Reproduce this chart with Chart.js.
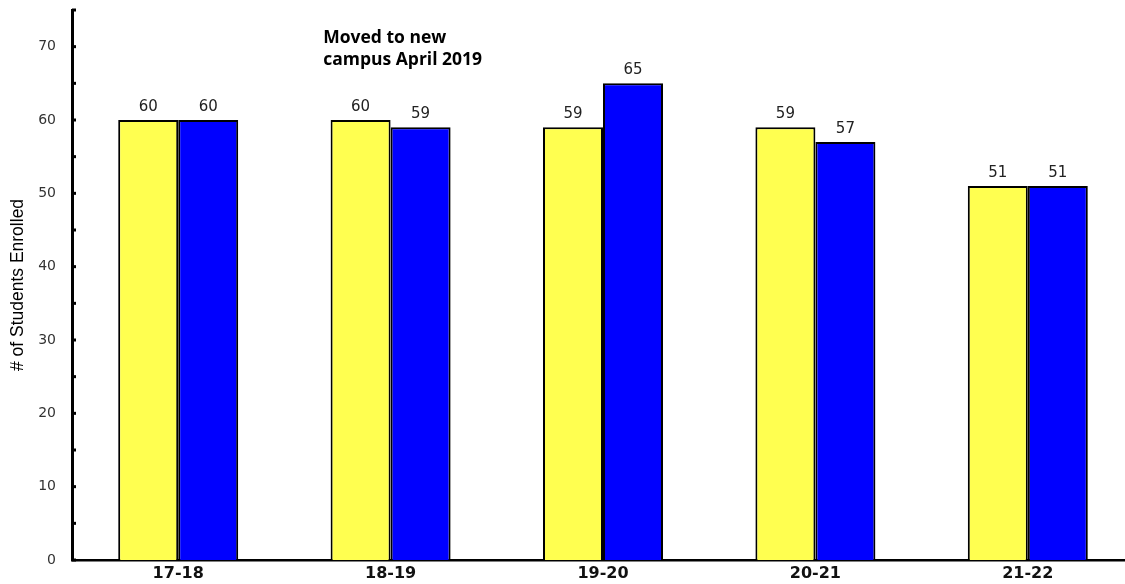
<!DOCTYPE html>
<html>
<head>
<meta charset="utf-8">
<script src="https://cdn.jsdelivr.net/npm/chart.js@4.4.0/dist/chart.umd.min.js"></script>
<style>
  html, body { margin: 0; padding: 0; background: #fff; overflow: hidden; }
  #wrap { width: 1140px; height: 584px; }
</style>
</head>
<body>
<div id="wrap"><canvas id="barChart" width="1140" height="584"></canvas></div>
<script>
var years = ['17-18', '18-19', '19-20', '20-21', '21-22'];
var firstSeries = [60, 60, 59, 59, 51];
var secondSeries = [60, 59, 65, 57, 51];
var yTicks = [0, 10, 20, 30, 40, 50, 60, 70];
var noteLines = ['Moved to new', 'campus April 2019'];

// numbers over the bars
var valueLabels = {
  id: 'valueLabels',
  afterDatasetsDraw: function(chart) {
    var ctx = chart.ctx;
    ctx.save();
    ctx.font = '15px "DejaVu Sans"';
    ctx.fillStyle = '#222';
    ctx.textAlign = 'center';
    ctx.textBaseline = 'middle';
    chart.data.datasets.forEach(function(ds, i) {
      chart.getDatasetMeta(i).data.forEach(function(bar, j) {
        ctx.fillText(ds.data[j], bar.x, bar.y - 13);
      });
    });
    ctx.restore();
  }
};

// small tick marks on the inside of the y axis + the note
var extras = {
  id: 'extras',
  afterDraw: function(chart) {
    var ctx = chart.ctx;
    var y = chart.scales.y;
    var x = chart.scales.x;
    ctx.save();
    ctx.strokeStyle = '#000';
    ctx.lineWidth = 3;
    for (var v = 0; v <= 75; v += 5) {
      var py = y.getPixelForValue(v);
      ctx.beginPath();
      ctx.moveTo(chart.chartArea.left, py);
      ctx.lineTo(chart.chartArea.left + 4, py);
      ctx.stroke();
    }
    ctx.font = 'bold 17.5px "Open Sans"';
    ctx.fillStyle = '#000';
    ctx.textAlign = 'left';
    ctx.textBaseline = 'middle';
    var nx = x.getPixelForValue(0) + 145;
    ctx.fillText(noteLines[0], nx, y.getPixelForValue(71.2));
    ctx.fillText(noteLines[1], nx, y.getPixelForValue(68.2));
    ctx.restore();
  }
};

var barConfig = {
  type: 'bar',
  data: {
    labels: years,
    datasets: [{
      label: 'A',
      data: firstSeries,
      backgroundColor: '#ffff50',
      borderColor: '#000',
      borderWidth: 2
    }, {
      label: 'B',
      data: secondSeries,
      backgroundColor: '#0000ff',
      borderColor: '#000',
      borderWidth: 2
    }]
  },
  options: {
    responsive: false,
    animation: false,
    layout: { padding: { top: 10, right: 6, left: 0, bottom: 0 } },
    plugins: {
      legend: { display: false },
      tooltip: { enabled: false }
    },
    datasets: {
      bar: { categoryPercentage: 0.565, barPercentage: 1.0 }
    },
    scales: {
      x: {
        grid: { display: false, drawTicks: false },
        border: { display: true, color: '#000', width: 2.5 },
        ticks: {
          color: '#111',
          font: { family: 'DejaVu Sans', size: 16, weight: 'bold' },
          padding: 4
        },
        afterFit: function(axis) { axis.height = 24; }
      },
      y: {
        min: 0,
        max: 75,
        afterBuildTicks: function(axis) {
          axis.ticks = yTicks.map(function(v) { return { value: v }; });
        },
        grid: { display: false, drawTicks: false },
        border: { display: true, color: '#000', width: 3 },
        ticks: {
          color: '#333',
          font: { family: 'DejaVu Sans', size: 14 },
          padding: 16
        },
        title: {
          display: true,
          text: '# of Students Enrolled',
          color: '#000',
          font: { family: 'Liberation Sans', size: 17.5 },
          padding: { top: 8, bottom: 0 }
        },
        afterFit: function(axis) {
          axis.width = 72;
          axis.paddingTop = 0;
          axis.paddingBottom = 0;
        }
      }
    }
  },
  plugins: [valueLabels, extras]
};

var barChart = new Chart(
  document.getElementById('barChart'),
  barConfig
);
</script>
</body>
</html>
